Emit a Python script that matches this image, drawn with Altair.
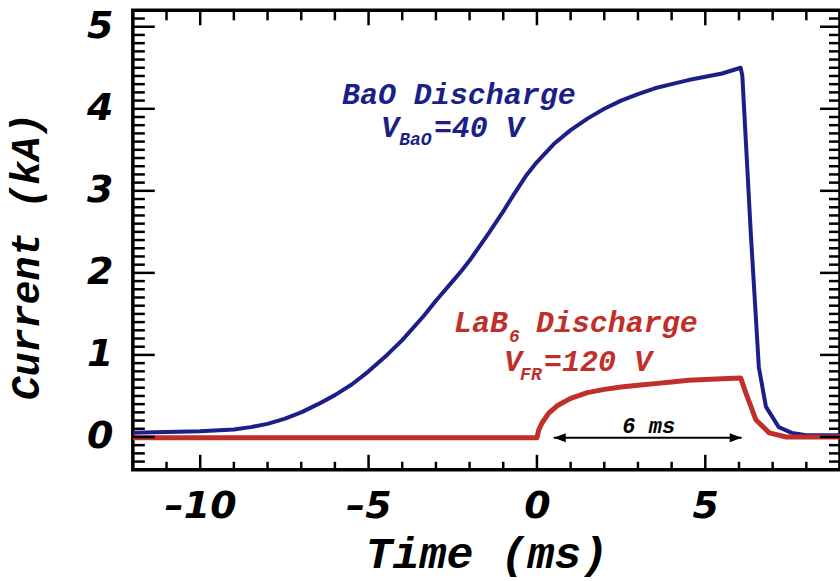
import altair as alt
import pandas as pd

# ---- data ----
bao_t = [-12, -11, -10, -9, -8.5, -8, -7.5, -7, -6.5, -6, -5.5, -5, -4.45, -4, -3.35, -3,
         -2.5, -2.25, -2, -1.42, -1, -0.68, -0.33, 0, 0.5, 1, 1.5, 2, 2.5, 3, 3.5, 4, 4.5,
         5, 5.5, 6.05, 6.1, 6.35, 6.59, 6.8, 7.18, 7.57, 8, 9]
bao_i = [0.05, 0.06, 0.07, 0.09, 0.12, 0.16, 0.22, 0.30, 0.40, 0.51, 0.64, 0.80, 1.00, 1.18, 1.48, 1.66,
         1.90, 2.02, 2.15, 2.49, 2.75, 2.96, 3.18, 3.35, 3.57, 3.74, 3.88, 4.00, 4.10, 4.18, 4.25, 4.30, 4.35,
         4.39, 4.43, 4.50, 4.40, 2.49, 0.85, 0.37, 0.12, 0.05, 0.02, 0.02]

lab_t = [-12, -6, 0, 0.05, 0.15, 0.35, 0.6, 1, 1.5, 2, 2.5, 3, 3.5, 4, 4.5, 5, 5.5, 6.05,
         6.2, 6.5, 6.9, 7.4, 9]
lab_i = [-0.01, -0.01, -0.01, 0.08, 0.17, 0.29, 0.38, 0.47, 0.54, 0.58, 0.61, 0.63, 0.65, 0.67,
         0.69, 0.70, 0.71, 0.72, 0.54, 0.21, 0.05, 0.0, 0.0]

x_major = [-10, -5, 0, 5]
x_minor = [-12, -11, -9, -8, -7, -6, -4, -3, -2, -1, 1, 2, 3, 4, 6, 7, 8, 9]
y_major = [0, 1, 2, 3, 4, 5]
y_minor = [round(-0.3 + 0.1 * k, 1) for k in range(55)]
y_minor = [v for v in y_minor if abs(v - round(v)) > 1e-6]

# annotation texts (x, y in data units)
ann_big = pd.DataFrame({
    "x": [-5.79, -4.63, -3.06, -2.46, -0.03, -0.98, 0.21],
    "y": [4.17, 3.77, 3.77, 1.39, 1.39, 0.91, 0.91],
    "text": ["BaO Discharge", "V", "=40 V", "LaB", "Discharge", "V", "=120 V"],
    "grp": ["BaO", "BaO", "BaO", "LaB6", "LaB6", "LaB6", "LaB6"],
})
ann_sub = pd.DataFrame({
    "x": [-4.09, -0.83, -0.5],
    "y": [3.62, 1.22, 0.76],
    "text": ["BaO", "6", "FR"],
    "grp": ["BaO", "LaB6", "LaB6"],
})
arrow_x = [0.5, 6.08]
arrow_y = -0.01
arrow_label = "6 ms"

NAVY = "#1b1f87"
RED = "#c0302b"
W, H = 708, 460
XD = [-12, 9]
YD = [-0.4, 5.2]

lines = pd.concat([
    pd.DataFrame({"t": bao_t, "i": bao_i, "s": "BaO"}),
    pd.DataFrame({"t": lab_t, "i": lab_i, "s": "LaB6"}),
])

xs = alt.Scale(domain=XD, nice=False, zero=False)
ys = alt.Scale(domain=YD, nice=False, zero=False)
cs = alt.Scale(domain=["BaO", "LaB6"], range=[NAVY, RED])

xaxis = alt.Axis(values=x_major, tickSize=0, domain=False, grid=False, labelPadding=18,
                 labelExpr="datum.value < 0 ? '\u2013' + abs(datum.value) : '' + datum.value",
                 title="Time (ms)", titleY=62, titleBaseline="top")
yaxis = alt.Axis(values=y_major, tickSize=0, domain=False, grid=False, labelPadding=20,
                 format="d", title="Current (kA)", titleX=-86, titleY=246,
                 titleBaseline="bottom")

base_lines = alt.Chart(lines).mark_line(strokeJoin="round").encode(
    x=alt.X("t:Q", scale=xs, axis=xaxis),
    y=alt.Y("i:Q", scale=ys, axis=yaxis),
    color=alt.Color("s:N", scale=cs, legend=None),
    strokeWidth=alt.StrokeWidth("s:N", scale=alt.Scale(domain=["BaO", "LaB6"], range=[4, 5]),
                                legend=None),
    detail="s:N",
    order=alt.Order("t:Q"),
)

def yticks(vals, length, right=False):
    d = pd.DataFrame({"v": vals})
    if right:
        xe = dict(x=alt.value(W), x2=alt.value(W - length))
    else:
        xe = dict(x=alt.value(0), x2=alt.value(length))
    return alt.Chart(d).mark_rule(color="black", strokeWidth=2.5).encode(
        y=alt.Y("v:Q", scale=ys), **xe)

def xticks(vals, length, top=False):
    d = pd.DataFrame({"v": vals})
    if top:
        ye = dict(y=alt.value(0), y2=alt.value(length))
    else:
        ye = dict(y=alt.value(H), y2=alt.value(H - length))
    return alt.Chart(d).mark_rule(color="black", strokeWidth=2.5).encode(
        x=alt.X("v:Q", scale=xs), **ye)

ticks = [
    yticks(y_major, 22), yticks(y_minor, 12),
    yticks(y_major, 20, right=True), yticks(y_minor, 11, right=True),
    xticks(x_major, 15), xticks(x_minor, 8),
    xticks(x_major, 15, top=True), xticks(x_minor, 10, top=True),
]

big_text = alt.Chart(ann_big).mark_text(
    font="Liberation Mono", fontStyle="italic", fontWeight="bold", fontSize=30,
    align="left", baseline="middle").encode(
    x=alt.X("x:Q", scale=xs), y=alt.Y("y:Q", scale=ys), text="text:N",
    color=alt.Color("grp:N", scale=cs, legend=None))

sub_text = alt.Chart(ann_sub).mark_text(
    font="Liberation Mono", fontStyle="italic", fontWeight="bold", fontSize=18,
    align="left", baseline="middle").encode(
    x=alt.X("x:Q", scale=xs), y=alt.Y("y:Q", scale=ys), text="text:N",
    color=alt.Color("grp:N", scale=cs, legend=None))

arr_df = pd.DataFrame({"x": [arrow_x[0]], "x2": [arrow_x[1]], "y": [arrow_y]})
arrow_line = alt.Chart(arr_df).mark_rule(color="black", strokeWidth=2).encode(
    x=alt.X("x:Q", scale=xs), x2="x2:Q", y=alt.Y("y:Q", scale=ys))

heads = pd.DataFrame({"x": arrow_x, "y": [arrow_y, arrow_y], "d": ["l", "r"]})
head_l = alt.Chart(heads[heads.d == "l"]).mark_point(
    shape="M0,0 L2,-0.75 L2,0.75 Z", filled=True, color="black", opacity=1, size=144,
    strokeWidth=0).encode(x=alt.X("x:Q", scale=xs), y=alt.Y("y:Q", scale=ys))
head_r = alt.Chart(heads[heads.d == "r"]).mark_point(
    shape="M0,0 L-2,-0.75 L-2,0.75 Z", filled=True, color="black", opacity=1, size=144,
    strokeWidth=0).encode(x=alt.X("x:Q", scale=xs), y=alt.Y("y:Q", scale=ys))

lab_df = pd.DataFrame({"x": [3.32], "y": [0.13], "text": [arrow_label]})
arrow_text = alt.Chart(lab_df).mark_text(
    font="Liberation Mono", fontStyle="italic", fontWeight="bold", fontSize=22,
    align="center", baseline="middle", color="black").encode(
    x=alt.X("x:Q", scale=xs), y=alt.Y("y:Q", scale=ys), text="text:N")

chart = alt.layer(
    base_lines, *ticks, big_text, sub_text, arrow_line, head_l, head_r, arrow_text
).properties(
    width=W, height=H,
    autosize=alt.AutoSizeParams(type="none"),
    padding={"left": 133, "top": 10, "right": 0, "bottom": 111},
    background="white",
).configure_view(
    stroke="black", strokeWidth=3.5
).configure_axis(
    labelFont="DejaVu Sans", labelFontStyle="italic", labelFontWeight="bold",
    labelFontSize=38, labelColor="black",
    titleFont="Liberation Mono", titleFontStyle="italic", titleFontWeight="bold",
    titleColor="black",
).configure_axisX(titleFontSize=45).configure_axisY(titleFontSize=40)

chart.save("out.html", embed_options={"renderer": "svg", "actions": False})
